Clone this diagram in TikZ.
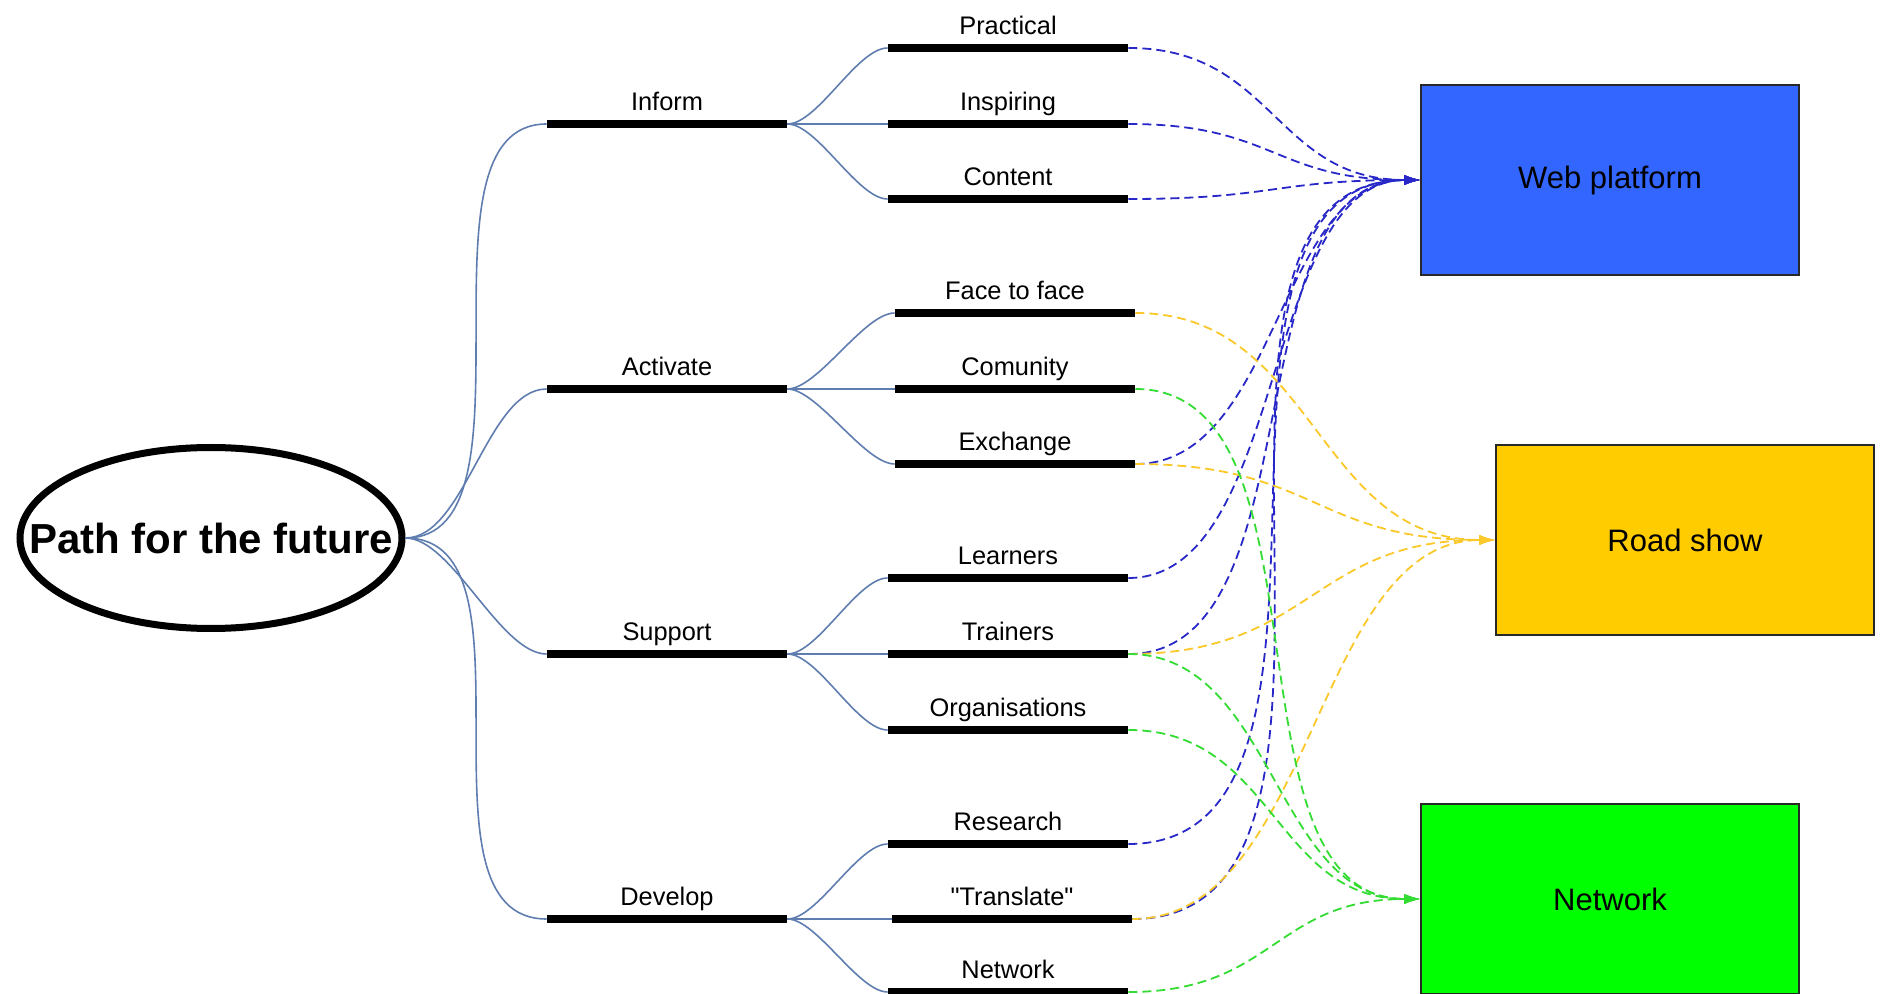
\documentclass[tikz,border=0pt]{standalone}
\usepackage{fontspec}
\setmainfont{Liberation Sans}
\usetikzlibrary{shapes.geometric,arrows.meta,calc}

\newcommand\dq{\XeTeXglyph\XeTeXcharglyph34 }

\tikzset{
  curvy/.style={to path={let \p1=(\tikztostart), \p2=(\tikztotarget),
      \n1={min(\x2-\x1,0.4*abs(\y2-\y1))} in
      .. controls ({\x1+\n1*1pt},\y1) and ({\x2-\n1*1pt},\y2) .. (\p2)}},
  wavy/.style={to path={let \p1=(\tikztostart), \p2=(\tikztotarget),
      \n1={max(0.5*(\x2-\x1),min(\x2-\x1,0.4*abs(\y2-\y1)))} in
      .. controls ({\x1+\n1*1pt},\y1) and ({\x2-\n1*1pt},\y2) .. (\p2)}},
  topic/.style={font=\fontsize{12.7}{15}\selectfont, inner sep=0pt, text depth=0.22em},
  bar/.style={fill=black, inner sep=0pt, minimum width=120pt, minimum height=4pt,
    label={[topic, label distance=2.2pt]above:#1}},
  branch/.style={curvy, draw=treeline, line width=0.8pt},
  link/.style={wavy, draw=#1, line width=0.9pt, dash pattern=on 4.5pt off 2.5pt,
    -{Latex[length=8pt,width=5pt]}},
  box/.style={draw=boxedge, line width=0.7pt, minimum width=189pt, minimum height=95pt,
    font=\fontsize{15.5}{18}\selectfont}
}

\begin{document}
\begin{tikzpicture}[x=0.5pt, y=-0.5pt]
% Define colours
\definecolor{treeline}{RGB}{95,125,175}
\definecolor{boxedge}{RGB}{40,40,40}
\definecolor{webfill}{RGB}{51,102,255}
\definecolor{webline}{RGB}{40,40,200}
\definecolor{roadfill}{RGB}{255,204,0}
\definecolor{roadline}{RGB}{250,200,40}
\definecolor{netfill}{RGB}{0,255,0}
\definecolor{netline}{RGB}{50,220,50}

\useasboundingbox (0,0) rectangle (1881,994);

% Central topic
\node[ellipse, draw, line width=3.5pt, minimum width=191pt, minimum height=90.5pt, inner sep=0pt,
  font=\bfseries\fontsize{21}{25}\selectfont] (root) at (211,538) {\makebox[0pt]{Path for the future}};

% Main branches
\node[bar=Inform] (inform) at (667,124) {};
\node[bar=Activate] (activate) at (667,389) {};
\node[bar=Support] (support) at (667,654) {};
\node[bar=Develop] (develop) at (667,919) {};

% Sub branches
\node[bar=Practical] (practical) at (1008,48) {};
\node[bar=Inspiring] (inspiring) at (1008,124) {};
\node[bar=Content] (content) at (1008,199) {};
\node[bar=Face to face] (facetoface) at (1015,313) {};
\node[bar=Comunity] (comunity) at (1015,389) {};
\node[bar=Exchange] (exchange) at (1015,464) {};
\node[bar=Learners] (learners) at (1008,578) {};
\node[bar=Trainers] (trainers) at (1008,654) {};
\node[bar=Organisations] (organisations) at (1008,730) {};
\node[bar=Research] (research) at (1008,844) {};
\node[bar={\dq Translate\dq}] (translate) at (1012,919) {};
\node[bar=Network] (network) at (1008,992) {};

% Channels
\node[box, fill=webfill] (web) at (1610,180) {Web platform};
\node[box, fill=roadfill] (road) at (1685,540) {Road show};
\node[box, fill=netfill] (net) at (1610,899) {Network};

% Tree lines
\foreach \t in {inform,activate,support,develop}
  \draw[branch] (root.east) to (\t.west);
\foreach \a/\b in {inform/practical,inform/inspiring,inform/content,
    activate/facetoface,activate/comunity,activate/exchange,
    support/learners,support/trainers,support/organisations,
    develop/research,develop/translate,develop/network}
  \draw[branch] (\a.east) to (\b.west);

% Links to channels
\foreach \s in {practical,inspiring,content,exchange,learners,trainers,research,translate}
  \draw[link=webline] (\s.east) to (web.west);
\foreach \s in {facetoface,exchange,trainers,translate}
  \draw[link=roadline] (\s.east) to (road.west);
\foreach \s in {comunity,trainers,organisations,network}
  \draw[link=netline] (\s.east) to (net.west);
\end{tikzpicture}
\end{document}
